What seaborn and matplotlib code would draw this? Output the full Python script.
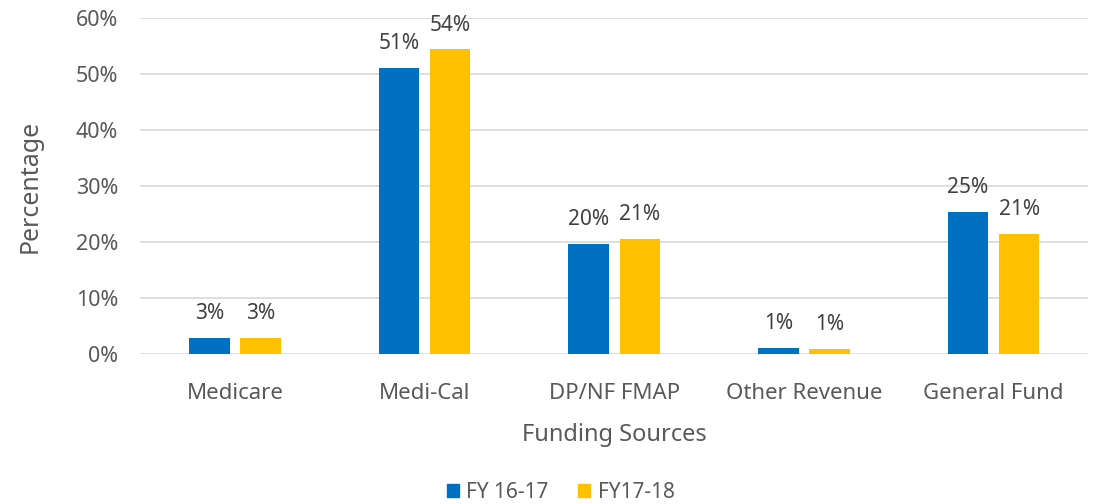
import pandas as pd
import matplotlib
matplotlib.use("Agg")
import matplotlib.pyplot as plt
import seaborn as sns

sources = ["Medicare", "Medi-Cal", "DP/NF FMAP", "Other Revenue", "General Fund"]
fy1617 = [2.8, 51.1, 19.7, 1.1, 25.3]
fy1718 = [2.8, 54.4, 20.6, 0.8, 21.4]
series = ["FY 16-17", "FY17-18"]
colors = ["#0070C0", "#FFC000"]

df = pd.DataFrame({
    "source": sources * 2,
    "value": fy1617 + fy1718,
    "year": [series[0]] * len(sources) + [series[1]] * len(sources),
})

sns.set_style("white")
plt.rcParams["font.family"] = ["Noto Sans", "DejaVu Sans"]

fig = plt.figure(figsize=(10.95, 5.04), dpi=100)
ax = fig.add_axes([0.128, 0.298, 0.866, 0.666])

sns.barplot(
    data=df,
    x="source",
    y="value",
    hue="year",
    palette=colors,
    saturation=1,
    linewidth=0,
    width=0.54,
    gap=0.21,
    ax=ax,
    legend=False,
)

for cont in ax.containers:
    ax.bar_label(cont, fmt="{:.0f}%", padding=10, fontsize=15, color="#404040")

ax.set_ylim(0, 60)
ax.set_yticks(range(0, 61, 10))
ax.set_yticklabels([f"{t}%" for t in range(0, 61, 10)])
ax.yaxis.grid(True, color="#D9D9D9", linewidth=1.2)
ax.set_axisbelow(True)
sns.despine(ax=ax, left=True, bottom=True)
ax.tick_params(axis="y", length=0, pad=16, labelsize=15.5, labelcolor="#595959")
ax.tick_params(axis="x", length=0, pad=21, labelsize=16, labelcolor="#595959")

ax.set_xlabel("Funding Sources", fontsize=17, color="#595959", labelpad=14)
ax.set_ylabel("Percentage", fontsize=18, color="#595959", labelpad=24)

handles = [plt.Rectangle((0, 0), 1, 1, color=c) for c in colors]
fig.legend(
    handles,
    series,
    loc="lower center",
    bbox_to_anchor=(0.512, -0.035),
    ncol=2,
    frameon=False,
    fontsize=15,
    handlelength=0.6,
    handleheight=0.6,
    handletextpad=0.35,
    columnspacing=1.4,
    labelcolor="#595959",
)

fig.savefig("out.png", dpi=100)
